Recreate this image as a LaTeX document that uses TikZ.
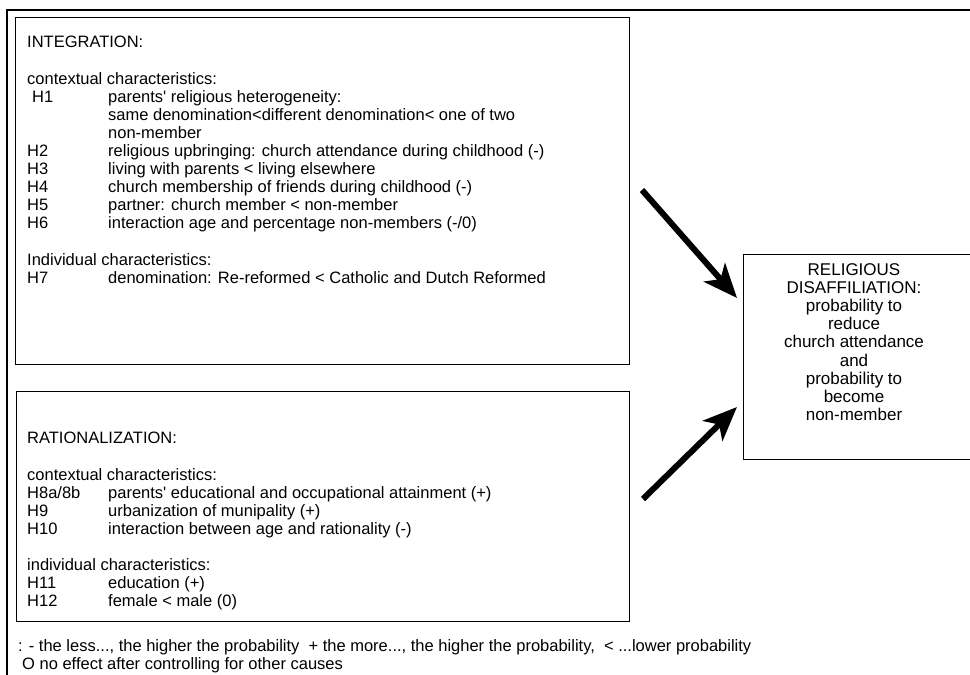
\documentclass[tikz,border=0pt]{standalone}
\usepackage{fontspec}
\setmainfont{Liberation Sans}[Ligatures=TeXOff]
\usetikzlibrary{arrows.meta}
\newcommand{\hl}[1]{\makebox[81pt][l]{#1}}
\begin{document}
\begin{tikzpicture}[x=1pt,y=-1pt,
  box/.style={draw=black,line width=1.2pt,inner sep=0pt,anchor=north west},
  body/.style={inner sep=0pt,anchor=north west,align=left,
    font=\fontsize{16.5}{18.1}\selectfont},
  bigarrow/.style={line width=6pt,-{Stealth[length=34pt,width=28pt,inset=9pt]}}]
\useasboundingbox (0,0) rectangle (970,675);
\clip (0,0) rectangle (970,675);
\fill[white] (0,0) rectangle (970,675);
% outer frame (left and top edges)
\draw[line width=1.2pt] (7,700) -- (7,10) -- (990,10);
% integration box
\node[box,minimum width=614pt,minimum height=347pt] (integ) at (15,17) {};
\node[body] (integtxt) at (27,35) {%
\begin{tabular}{@{}l@{}}
INTEGRATION:\\
\\
contextual characteristics:\\
\hl{\hspace{5pt}H1}parents' religious heterogeneity:\\
\hl{}same denomination<different denomination< one of two\\
\hl{}non-member\\
\hl{H2}religious upbringing: church attendance during childhood (-)\\
\hl{H3}living with parents < living elsewhere\\
\hl{H4}church membership of friends during childhood (-)\\
\hl{H5}partner: church member < non-member\\
\hl{H6}interaction age and percentage non-members (-/0)\\
\\
Individual characteristics:\\
\hl{H7}denomination: Re-reformed < Catholic and Dutch Reformed
\end{tabular}};
% rationalization box
\node[box,minimum width=613pt,minimum height=230pt] (ratio) at (16,391) {};
\node[body] (ratiotxt) at (27,431) {%
\begin{tabular}{@{}l@{}}
RATIONALIZATION:\\
\\
contextual characteristics:\\
\hl{H8a/8b}parents' educational and occupational attainment (+)\\
\hl{H9}urbanization of munipality (+)\\
\hl{H10}interaction between age and rationality (-)\\
\\
individual characteristics:\\
\hl{H11}education (+)\\
\hl{H12}female < male (0)
\end{tabular}};
% outcome box
\node[box,minimum width=250pt,minimum height=205pt] (dis) at (743,254) {};
\node[inner sep=0pt,align=center,anchor=north,
  font=\fontsize{17}{18.2}\selectfont] (distxt) at (854,263) {%
RELIGIOUS\\DISAFFILIATION:\\probability to\\reduce\\church attendance\\and\\probability to\\become\\non-member};
% arrows
\coordinate (t1) at (642,190);
\coordinate (h1) at (737,298);
\coordinate (t2) at (643,499);
\coordinate (h2) at (737,407);
\draw[bigarrow] (t1) -- (h1);
\draw[bigarrow] (t2) -- (h2);
% footnote
\node[inner sep=0pt,anchor=north west,align=left,
  font=\fontsize{16.5}{18}\selectfont] (foot) at (18,639) {%
: - the less..., the higher the probability~~+ the more..., the higher the probability,~~< ...lower probability\\
\hspace{4pt}O no effect after controlling for other causes};
\end{tikzpicture}
\end{document}
